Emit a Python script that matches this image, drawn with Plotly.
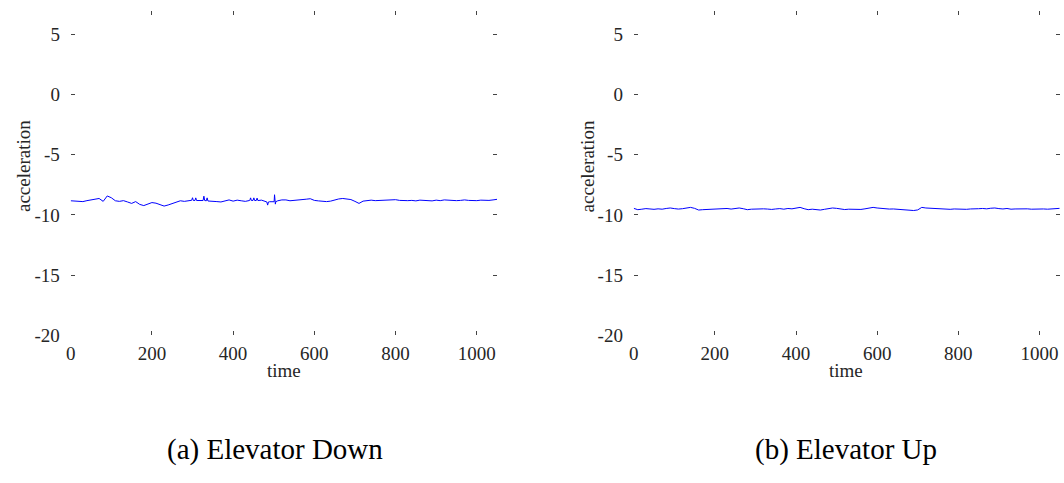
import plotly.graph_objects as go
from plotly.subplots import make_subplots

# ---- data: (a) Elevator Down ----
time_down = [0, 10, 20, 30, 40, 50, 60, 70, 80, 90, 100, 110, 120, 130, 140, 150, 160, 170, 180, 190,
             200, 210, 220, 230, 240, 250, 260, 270, 280, 290, 298, 300, 302, 306, 308, 310, 320, 326, 328,
             330, 334, 336, 338, 340, 350, 360, 370, 380, 390, 400, 410, 420, 430, 440, 441, 443, 445,
             449, 451, 453, 457, 459, 461, 470, 480, 483, 485, 487, 490, 500, 501, 502, 503, 504, 505,
             510, 520, 530, 540, 550, 560, 570, 580, 590, 600, 610, 620, 630, 640, 650, 660, 670, 680,
             690, 700, 710, 720, 730, 740, 750, 760, 770, 780, 790, 800, 810, 820, 830, 840, 850, 860,
             870, 880, 890, 900, 910, 920, 930, 940, 950, 960, 970, 980, 990, 1000, 1010, 1020, 1030,
             1040, 1050]
acc_down = [-8.82, -8.85, -8.83, -8.89, -8.81, -8.77, -8.67, -8.63, -8.87, -8.42, -8.57, -8.82, -8.87,
            -8.81, -8.92, -9.04, -8.89, -9.12, -9.22, -9.07, -8.97, -9.02, -9.12, -9.26, -9.17, -9.05,
            -8.92, -8.82, -8.87, -8.79, -8.78, -8.57, -8.80, -8.80, -8.58, -8.80, -8.82, -8.80, -8.44,
            -8.80, -8.82, -8.58, -8.84, -8.85, -8.87, -8.89, -8.92, -8.82, -8.75, -8.85, -8.77, -8.82,
            -8.87, -8.80, -8.80, -8.58, -8.80, -8.79, -8.58, -8.80, -8.80, -8.60, -8.80, -8.77, -8.87,
            -8.92, -9.18, -8.92, -8.90, -8.92, -8.90, -8.32, -8.88, -9.10, -8.90, -8.82, -8.75, -8.75,
            -8.82, -8.79, -8.81, -8.77, -8.69, -8.65, -8.79, -8.83, -8.87, -8.89, -8.85, -8.75, -8.67,
            -8.63, -8.65, -8.72, -8.87, -9.04, -8.85, -8.79, -8.77, -8.81, -8.79, -8.83, -8.81, -8.77,
            -8.73, -8.79, -8.83, -8.81, -8.79, -8.83, -8.77, -8.81, -8.79, -8.83, -8.77, -8.81, -8.75,
            -8.79, -8.77, -8.81, -8.79, -8.75, -8.79, -8.83, -8.81, -8.77, -8.81, -8.79, -8.75, -8.70]

# ---- data: (b) Elevator Up ----
time_up = list(range(0, 1051, 10))
acc_up = [-9.45, -9.56, -9.52, -9.47, -9.50, -9.53, -9.49, -9.52, -9.46, -9.42, -9.47, -9.51, -9.48,
          -9.40, -9.37, -9.45, -9.59, -9.56, -9.54, -9.52, -9.50, -9.48, -9.42, -9.46, -9.51, -9.47,
          -9.42, -9.48, -9.56, -9.52, -9.50, -9.53, -9.49, -9.51, -9.54, -9.50, -9.47, -9.52, -9.46,
          -9.49, -9.42, -9.37, -9.48, -9.56, -9.52, -9.55, -9.59, -9.53, -9.47, -9.42, -9.45, -9.51,
          -9.55, -9.52, -9.54, -9.50, -9.54, -9.49, -9.44, -9.37, -9.42, -9.46, -9.47, -9.51, -9.50,
          -9.53, -9.56, -9.59, -9.60, -9.63, -9.58, -9.37, -9.42, -9.44, -9.46, -9.49, -9.51, -9.50,
          -9.53, -9.50, -9.52, -9.49, -9.53, -9.50, -9.51, -9.48, -9.46, -9.49, -9.44, -9.42, -9.47,
          -9.50, -9.46, -9.52, -9.50, -9.48, -9.46, -9.49, -9.52, -9.50, -9.54, -9.50, -9.52, -9.49,
          -9.47, -9.45]

x_ticks = [0, 200, 400, 600, 800, 1000]
x_tick_labels = ["0", "200", "400", "600", "800", "1000"]
y_ticks = [-20, -15, -10, -5, 0, 5]
y_tick_labels = ["-20", "-15", "-10", "-5", "0", "5"]
x_title = "time"
y_title = "acceleration"
captions = ["(a) Elevator Down", "(b) Elevator Up"]

W, H = 1064, 483
def fx(p):
    return p / W
def fy(p):
    return 1 - p / H

FONT = "Liberation Serif"
TXT = "#262626"

fig = make_subplots(rows=1, cols=2)
fig.add_trace(go.Scatter(x=time_down, y=acc_down, mode="lines",
                         line=dict(color="#0000FF", width=1), showlegend=False), row=1, col=1)
fig.add_trace(go.Scatter(x=time_up, y=acc_up, mode="lines",
                         line=dict(color="#0000FF", width=1), showlegend=False), row=1, col=2)

ax_common = dict(showgrid=False, zeroline=False, showline=True, linecolor="rgba(0,0,0,0)",
                 ticks="inside", mirror="ticks", ticklen=4, tickwidth=1, tickcolor="#444",
                 tickfont=dict(family=FONT, size=19, color=TXT))

xdom = [[fx(66), fx(494.4)], [fx(631.7), fx(1059.7)]]
ydom = [fy(343.3), fy(11.6)]
for i, ax in enumerate(["xaxis", "xaxis2"]):
    fig.layout[ax].update(range=[0, 1050], domain=xdom[i], tickvals=x_ticks, ticktext=x_tick_labels,
                          ticklabelstandoff=1, **ax_common)
for i, ax in enumerate(["yaxis", "yaxis2"]):
    fig.layout[ax].update(range=[-20, 6.9], domain=ydom, tickvals=y_ticks, ticktext=y_tick_labels,
                          ticklabelstandoff=6, **ax_common)

ann = []
for cx, lx in [(280, 18), (845, 585)]:
    ann.append(dict(text=x_title, x=fx(cx), y=fy(379), xref="paper", yref="paper",
                    xanchor="center", yanchor="middle", showarrow=False,
                    font=dict(family=FONT, size=19, color=TXT)))
    ann.append(dict(text=y_title, x=fx(lx), y=fy(170), xref="paper", yref="paper",
                    xanchor="center", yanchor="middle", showarrow=False, textangle=-90,
                    font=dict(family=FONT, size=19, color=TXT)))
for cap, cap_x in zip(captions, [271, 845]):
    ann.append(dict(text=cap, x=fx(cap_x), y=fy(460), xref="paper", yref="paper",
                    xanchor="center", yanchor="middle", showarrow=False,
                    font=dict(family=FONT, size=29, color="#000")))

fig.update_layout(width=W, height=H, margin=dict(l=0, r=0, t=0, b=0),
                  paper_bgcolor="white", plot_bgcolor="white", annotations=ann)

fig.write_html("out.html", config={"displayModeBar": False},
               post_script="document.body.style.margin='0';"
                           "document.body.style.overflow='hidden';"
                           "document.documentElement.style.overflow='hidden';")
